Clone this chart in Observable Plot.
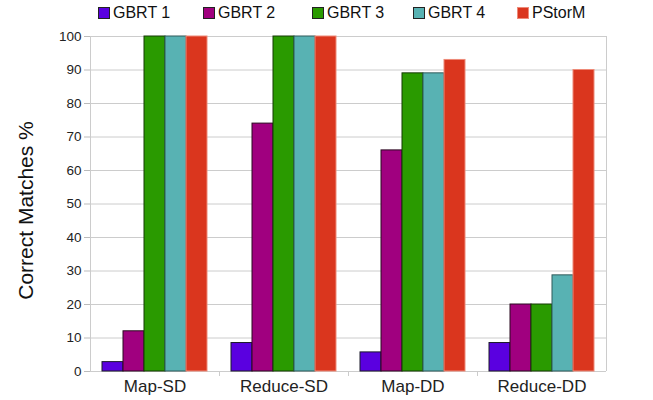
<!DOCTYPE html>
<html>
<head>
<meta charset="utf-8">
<script src="https://cdn.jsdelivr.net/npm/d3@7"></script>
<script src="https://cdn.jsdelivr.net/npm/@observablehq/plot@0.6"></script>
<style>
  body { margin: 0; background: #fff; font-family: "Liberation Sans", Arial, sans-serif; }
  #wrap { width: 653px; height: 400px; position: relative; }
  #legend { position: relative; height: 28px; width: 653px; }
  .item { position: absolute; top: 4px; display: flex; align-items: center; font-size: 16px; color: #111; line-height: 18px; }
  .sw { width: 10px; height: 10px; border: 1px solid #222; margin-right: 3px; }
  g[aria-label^="fx-axis"] text { font-size: 17px; }
</style>
</head>
<body>
<div id="wrap">
  <div id="legend"></div>
  <div id="chart"></div>
</div>
<script>
// ---- data ----
const categories = ["Map-SD", "Reduce-SD", "Map-DD", "Reduce-DD"];
const series = ["GBRT 1", "GBRT 2", "GBRT 3", "GBRT 4", "PStorM"];
const gbrt1 = [2.8, 8.5, 5.7, 8.5];
const gbrt2 = [12, 74, 66, 20];
const gbrt3 = [100, 100, 89, 20];
const gbrt4 = [100, 100, 89, 28.7];
const pstorm = [100, 100, 93, 90];
const yTicks = [0, 10, 20, 30, 40, 50, 60, 70, 80, 90, 100];
const yLabel = "Correct Matches %";

// ---- styles ----
const fills = ["#5a00e0", "#a0007f", "#2a9a00", "#58b2b3", "#da361e"];
const strokes = ["#1a1a2a", "#2a0a20", "#143a05", "#2f5a5a", "#ee8a78"];
const legendX = [98, 203, 312, 413, 517];

const seriesValues = [gbrt1, gbrt2, gbrt3, gbrt4, pstorm];
const data = [];
categories.forEach((c, i) => {
  series.forEach((s, j) => {
    data.push({category: c, series: s, value: seriesValues[j][i], fill: fills[j], stroke: strokes[j]});
  });
});

// legend
const legend = document.getElementById("legend");
series.forEach((s, j) => {
  const it = document.createElement("div");
  it.className = "item";
  it.style.left = legendX[j] + "px";
  const sw = document.createElement("div");
  sw.className = "sw";
  sw.style.background = fills[j];
  sw.style.borderColor = j === 4 ? "#ee8a78" : "#222";
  const tx = document.createElement("span");
  tx.textContent = s;
  it.appendChild(sw); it.appendChild(tx);
  legend.appendChild(it);
});

const plot = Plot.plot({
  width: 653,
  height: 372,
  marginTop: 8,
  marginBottom: 29,
  marginLeft: 90,
  marginRight: 47,
  style: {fontFamily: "'Liberation Sans', Arial, sans-serif", fontSize: "13.5px", color: "#222", background: "#fff"},
  fx: {domain: categories, padding: 0, label: null, axis: "bottom", tickSize: 0, tickPadding: 8},
  x: {domain: series, paddingInner: 0, paddingOuter: 0.514, axis: null},
  y: {domain: [0, 100], ticks: yTicks, tickSize: 6, tickPadding: 3, label: null, line: true},
  color: {type: "identity"},
  marks: [
    Plot.ruleY(yTicks, {stroke: "#cccccc", strokeWidth: 1}),
    Plot.barY(data, {fx: "category", x: "series", y: "value", fill: "fill", stroke: "stroke", strokeWidth: 1, inset: 0})
  ]
});
document.getElementById("chart").appendChild(plot);

// frame right edge, category boundary ticks and axis title via the library's scales
const fx = plot.scale("fx");
const y = plot.scale("y");
const svg = d3.select(plot.tagName.toLowerCase() === "svg" ? plot : plot.querySelector("svg"));
const y0 = y.apply(0), y100 = y.apply(100);
const left = fx.apply(categories[0]);
const right = fx.apply(categories[categories.length - 1]) + fx.bandwidth;
const g = svg.append("g").attr("stroke", "#cccccc").attr("shape-rendering", "crispEdges");
g.append("line").attr("x1", left).attr("x2", left).attr("y1", y100).attr("y2", y0);
g.append("line").attr("x1", right).attr("x2", right).attr("y1", y100).attr("y2", y0);
categories.forEach((c, i) => {
  const xb = fx.apply(c) + fx.bandwidth;
  if (i < categories.length - 1) g.append("line").attr("x1", xb).attr("x2", xb).attr("y1", y0).attr("y2", y0 + 5);
});
svg.selectAll('g[aria-label^="y-axis"] line, g[aria-label^="y-axis"] path').attr("stroke", "#bbbbbb");
// y-axis title
const ty = (y0 + y100) / 2 + 7;
svg.append("text")
  .attr("transform", `translate(33,${ty}) rotate(-90)`)
  .attr("text-anchor", "middle")
  .attr("font-size", 21)
  .attr("fill", "#111")
  .text(yLabel);
</script>
</body>
</html>
